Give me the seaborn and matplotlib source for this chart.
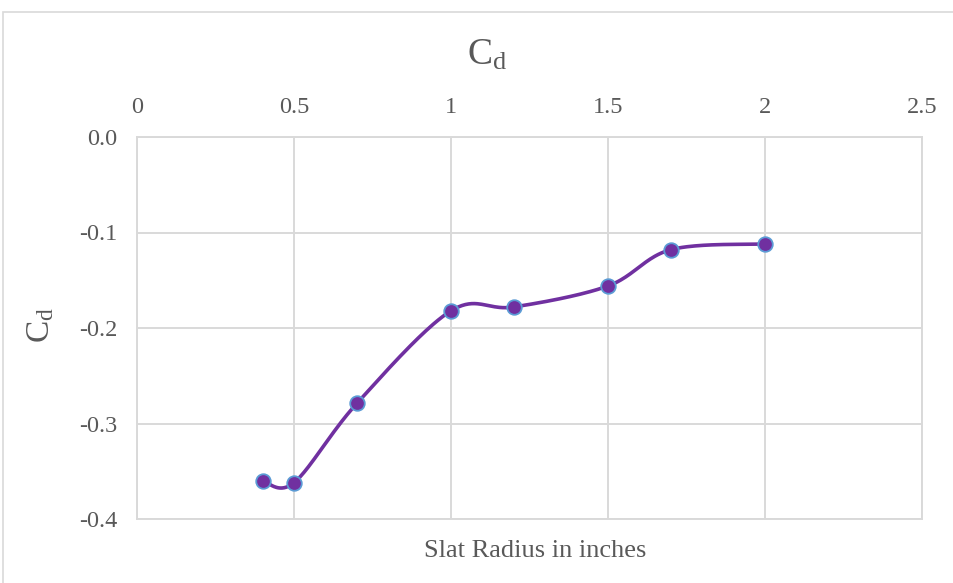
import numpy as np
import pandas as pd
import matplotlib
matplotlib.use("Agg")
import matplotlib.pyplot as plt
from matplotlib.patches import Rectangle
import seaborn as sns

# Drag coefficient vs slat radius
slat_radius = [0.4, 0.5, 0.7, 1.0, 1.2, 1.5, 1.7, 2.0]
cd_values = [-0.360, -0.362, -0.279, -0.182, -0.178, -0.156, -0.118, -0.112]
x_ticks = [0, 0.5, 1, 1.5, 2, 2.5]
x_tick_labels = ["0", "0.5", "1", "1.5", "2", "2.5"]
y_ticks = [0.0, -0.1, -0.2, -0.3, -0.4]
y_tick_labels = ["0.0", "-0.1", "-0.2", "-0.3", "-0.4"]

LINE_COLOR = "#7030A0"
EDGE_COLOR = "#5B9BD5"
GRID_COLOR = "#D9D9D9"
TEXT_COLOR = "#595959"


def smooth_curve(xs, ys, steps=40):
    """Cubic Bezier smoothing through the points (Catmull-Rom style tangents)."""
    xs = np.asarray(xs, float)
    ys = np.asarray(ys, float)
    n = len(xs)
    out_x, out_y = [], []
    t = np.linspace(0, 1, steps)
    for i in range(n - 1):
        p0 = np.array([xs[i - 1], ys[i - 1]]) if i > 0 else np.array([xs[i], ys[i]])
        p1 = np.array([xs[i], ys[i]])
        p2 = np.array([xs[i + 1], ys[i + 1]])
        p3 = np.array([xs[i + 2], ys[i + 2]]) if i + 2 < n else p2
        c1 = p1 + (p2 - p0) / 6.0
        c2 = p2 - (p3 - p1) / 6.0
        seg = ((1 - t) ** 3)[:, None] * p1 + (3 * (1 - t) ** 2 * t)[:, None] * c1 \
            + (3 * (1 - t) * t ** 2)[:, None] * c2 + (t ** 3)[:, None] * p2
        if i > 0:
            seg = seg[1:]
        out_x.extend(seg[:, 0])
        out_y.extend(seg[:, 1])
    return np.array(out_x), np.array(out_y)


sns.set_theme(style="white")
plt.rcParams["font.family"] = ["Liberation Serif", "DejaVu Serif"]
plt.rcParams["mathtext.fontset"] = "custom"
plt.rcParams["mathtext.rm"] = "Liberation Serif"
plt.rcParams["mathtext.it"] = "Liberation Serif"

fig = plt.figure(figsize=(9.54, 5.83), dpi=100)
fig.patch.set_facecolor("white")

# Chart area border
fig.add_artist(Rectangle((3 / 954, -0.05), 1.2, 1 - 12 / 583 + 0.05,
                         transform=fig.transFigure, fill=False,
                         edgecolor=GRID_COLOR, linewidth=1.2))

ax = fig.add_axes([137 / 954, 1 - 519 / 583, (922 - 137) / 954, (519 - 137) / 583])

sx, sy = smooth_curve(slat_radius, cd_values)
curve = pd.DataFrame({"x": sx, "y": sy})
points = pd.DataFrame({"Slat Radius": slat_radius, "Cd": cd_values})

sns.lineplot(data=curve, x="x", y="y", sort=False, color=LINE_COLOR,
             linewidth=2.6, ax=ax, zorder=3)
sns.scatterplot(data=points, x="Slat Radius", y="Cd", color=LINE_COLOR,
                edgecolor=EDGE_COLOR, linewidth=1.3, s=110, ax=ax, zorder=4)

ax.set_xlim(0, 2.5)
ax.set_ylim(-0.4, 0.0)
ax.set_xticks(x_ticks)
ax.set_xticklabels(x_tick_labels)
ax.set_yticks(y_ticks)
ax.set_yticklabels(y_tick_labels)
ax.xaxis.tick_top()
ax.tick_params(axis="both", length=0, labelsize=17.5, labelcolor=TEXT_COLOR)
ax.tick_params(axis="x", pad=14)
ax.tick_params(axis="y", pad=14)

ax.grid(True, color=GRID_COLOR, linewidth=1.4)
ax.set_axisbelow(True)
for sp in ax.spines.values():
    sp.set_color(GRID_COLOR)
    sp.set_linewidth(1.4)

ax.set_xlabel("")
ax.set_ylabel("")
fig.text(535 / 954, 1 - 551 / 583, "Slat Radius in inches", ha="center", va="center",
         fontsize=19, color=TEXT_COLOR)
fig.text(41 / 954, 1 - 325 / 583, r"$\mathregular{C_d}$", ha="center", va="center",
         rotation=90, fontsize=24, color=TEXT_COLOR)
fig.text(487 / 954, 1 - 55 / 583, r"$\mathregular{C_d}$", ha="center", va="center",
         fontsize=27, color=TEXT_COLOR)

fig.savefig("out.png", dpi=100, facecolor="white")
